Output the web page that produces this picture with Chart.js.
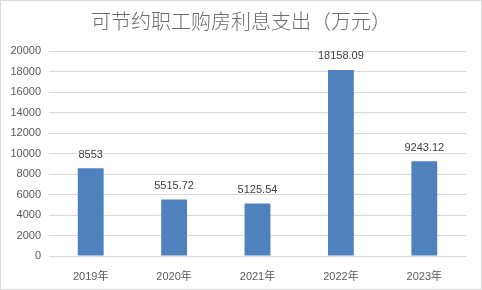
<!DOCTYPE html>
<html>
<head>
<meta charset="utf-8">
<script src="https://cdn.jsdelivr.net/npm/chart.js@4"></script>
<style>
  html, body { margin: 0; padding: 0; background: #fff; }
  #wrap { width: 482px; height: 290px; position: relative; }
</style>
</head>
<body>
<div id="wrap"><canvas id="chart" width="482" height="290"></canvas></div>
<script>
// 数据
const years = ['2019年', '2020年', '2021年', '2022年', '2023年'];
const savings = [8553, 5515.72, 5125.54, 18158.09, 9243.12];
const savingLabels = ['8553', '5515.72', '5125.54', '18158.09', '9243.12'];
const chartTitle = '可节约职工购房利息支出（万元）';

// 边框与标题
const framePlugin = {
    id: 'frame',
    beforeDraw(chart) {
        const ctx = chart.ctx;
        ctx.save();
        ctx.fillStyle = '#fff';
        ctx.fillRect(0, 0, chart.width, chart.height);
        ctx.strokeStyle = '#d9d9d9';
        ctx.lineWidth = 1;
        ctx.strokeRect(0.5, 0.5, chart.width - 1, chart.height - 1);
        ctx.fillStyle = '#6b6b6b';
        ctx.font = '300 20px "Noto Sans CJK SC"';
        ctx.textAlign = 'center';
        ctx.textBaseline = 'middle';
        ctx.fillText(chartTitle, chart.width / 2, 21);
        ctx.restore();
    }
};

// 数据标签
const valueLabels = {
    id: 'valueLabels',
    afterDatasetsDraw(chart) {
        const ctx = chart.ctx;
        const meta = chart.getDatasetMeta(0);
        ctx.save();
        ctx.fillStyle = '#404040';
        ctx.font = '11px "Liberation Sans"';
        ctx.textAlign = 'center';
        ctx.textBaseline = 'bottom';
        meta.data.forEach(function(bar, i) {
            ctx.fillText(savingLabels[i], bar.x, bar.y - 8);
        });
        ctx.restore();
    }
};

new Chart(document.getElementById('chart'), {
    type: 'bar',
    data: {
        labels: years,
        datasets: [{
            data: savings,
            backgroundColor: '#4f81bd',
            categoryPercentage: 1,
            barPercentage: 0.31
        }]
    },
    options: {
        responsive: false,
        animation: false,
        layout: { padding: { left: 0, right: 16, top: 51, bottom: 0 } },
        plugins: {
            legend: { display: false },
            tooltip: { enabled: false }
        },
        scales: {
            x: {
                grid: { display: false },
                border: { display: false },
                ticks: {
                    color: '#595959',
                    font: { family: '"Liberation Sans", "Noto Sans CJK SC"', size: 11 },
                    padding: 6
                },
                afterFit(axis) { axis.height = 34; }
            },
            y: {
                min: 0,
                max: 20000,
                ticks: {
                    stepSize: 2000,
                    color: '#595959',
                    font: { family: '"Liberation Sans"', size: 11 },
                    padding: 8,
                    callback: function(value) { return String(value); }
                },
                grid: { color: '#d9d9d9', drawTicks: false },
                border: { display: false },
                afterFit(axis) { axis.width = 49; }
            }
        }
    },
    plugins: [framePlugin, valueLabels]
});
</script>
</body>
</html>
